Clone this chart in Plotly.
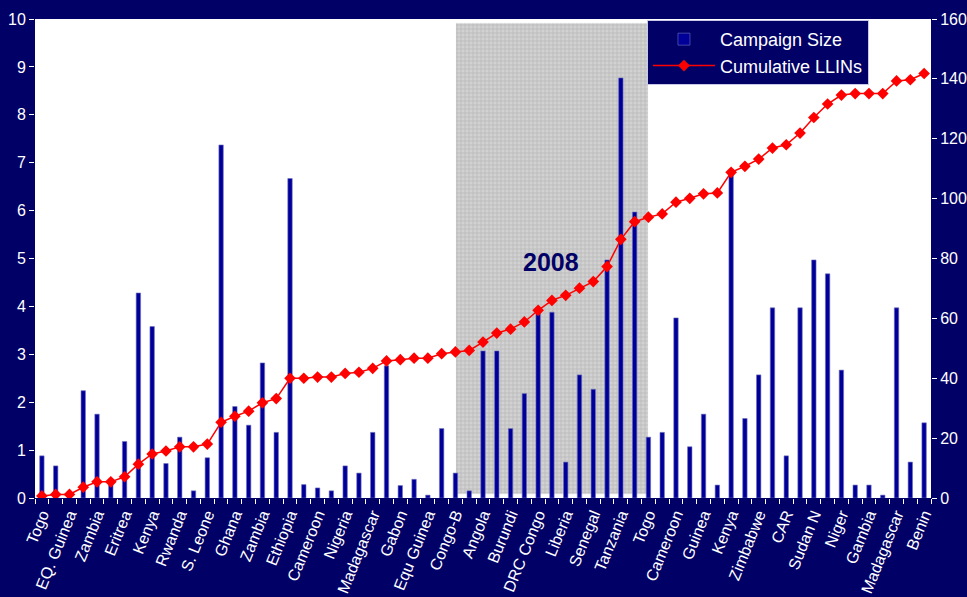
import plotly.graph_objects as go

# country labels shown on every second campaign
tick_labels = ["Togo", "EQ. Guinea", "Zambia", "Eritrea", "Kenya", "Rwanda", "S. Leone",
               "Ghana", "Zambia", "Ethiopia", "Cameroon", "Nigeria", "Madagascar", "Gabon",
               "Equ Guinea", "Congo-B", "Angola", "Burundi", "DRC Congo", "Liberia", "Senegal",
               "Tanzania", "Togo", "Cameroon", "Guinea", "Kenya", "Zimbabwe", "CAR", "Sudan N",
               "Niger", "Gambia", "Madagascar", "Benin"]

campaign_size = [0.88, 0.67, 0.0, 2.24, 1.75, 0.3, 1.18, 4.28, 3.58, 0.72,
                 1.27, 0.15, 0.84, 7.37, 1.91, 1.52, 2.82, 1.37, 6.67, 0.28,
                 0.21, 0.15, 0.67, 0.52, 1.37, 2.76, 0.26, 0.39, 0.06, 1.45,
                 0.52, 0.15, 3.07, 3.07, 1.45, 2.18, 3.86, 3.88, 0.75, 2.57,
                 2.27, 4.97, 8.77, 5.97, 1.27, 1.37, 3.76, 1.07, 1.75, 0.27,
                 6.85, 1.66, 2.57, 3.97, 0.88, 3.97, 4.97, 4.68, 2.67, 0.27,
                 0.27, 0.06, 3.97, 0.75, 1.57]

cumulative_llins = [0.7, 1.2, 1.2, 3.6, 5.4, 5.4, 7.1, 11.3, 14.7, 15.7,
                    17.1, 17.1, 18.0, 25.3, 27.3, 29.0, 31.8, 33.2, 40.0, 40.0,
                    40.4, 40.4, 41.6, 42.0, 43.3, 45.8, 46.2, 46.7, 46.7, 48.2,
                    48.8, 49.3, 52.1, 55.1, 56.4, 58.8, 62.7, 66.0, 67.7, 70.1,
                    72.3, 77.3, 86.4, 92.3, 93.8, 94.9, 98.8, 100.1, 101.6, 101.9,
                    108.8, 110.8, 113.2, 116.9, 118.0, 121.9, 127.1, 131.6, 134.6, 135.1,
                    135.1, 135.1, 139.3, 139.7, 141.8]

# campaigns run in 2008 (index range)
span_2008 = (30, 44)

navy = "#000066"
idx = list(range(len(campaign_size)))

fig = go.Figure()

# 2008 highlight box
fig.add_trace(go.Bar(
    x=[(span_2008[0] + span_2008[1]) / 2], y=[9.84], base=[0.08],
    width=[span_2008[1] - span_2008[0]],
    marker=dict(color="#c6c6c6", line=dict(color="white", width=1),
                pattern=dict(shape="+", fgcolor="#9a9a9a", bgcolor="#d2d2d2",
                             size=4, solidity=0.3)),
    showlegend=False, hoverinfo="skip"))

fig.add_trace(go.Bar(
    x=idx, y=campaign_size, name="Campaign Size", width=0.32,
    marker=dict(color="#000099", line=dict(color="#7070c0", width=0.6))))

fig.add_trace(go.Scatter(
    x=idx, y=cumulative_llins, name="Cumulative LLINs", yaxis="y2",
    mode="lines+markers",
    line=dict(color="#ff0000", width=1.5),
    marker=dict(symbol="diamond", size=9, color="#ff0000")))

fig.add_annotation(x=36.9, y=4.93, text="<b>2008</b>", showarrow=False,
                   font=dict(size=25, color=navy, family="Liberation Sans"))

fig.update_layout(
    width=967, height=597,
    paper_bgcolor=navy, plot_bgcolor="white",
    margin=dict(l=35, r=36, t=19, b=99),
    barmode="overlay",
    font=dict(family="Liberation Sans", color="white", size=15),
    xaxis=dict(range=[-0.5, len(idx) - 0.5], automargin=False,
               tickvals=idx[::2], ticktext=tick_labels, tickangle=-68,
               ticks="outside", ticklen=0, tickcolor="white",
               showgrid=False, zeroline=False,
               tickfont=dict(size=16, color="white"),
               minor=dict(tickvals=[i - 0.5 for i in range(len(idx) + 1)],
                          ticks="outside", ticklen=5, tickcolor="white",
                          showgrid=False)),
    yaxis=dict(range=[0, 10], dtick=1, ticks="outside", ticklen=5,
               tickcolor="white", showgrid=False, zeroline=False,
               automargin=False, tickfont=dict(size=16, color="white")),
    yaxis2=dict(range=[0, 160], dtick=20, overlaying="y", side="right",
                ticks="outside", ticklen=5, tickcolor="white",
                showgrid=False, zeroline=False, automargin=False,
                tickfont=dict(size=16, color="white")),
    legend=dict(x=0.683, y=0.998, xanchor="left", yanchor="top",
                bgcolor=navy, bordercolor="#c8c8e8", borderwidth=1,
                font=dict(size=18, color="white"), itemwidth=62),
)

fig.write_html("out.html", config={"displayModeBar": False},
               post_script="document.body.style.margin='0';")
